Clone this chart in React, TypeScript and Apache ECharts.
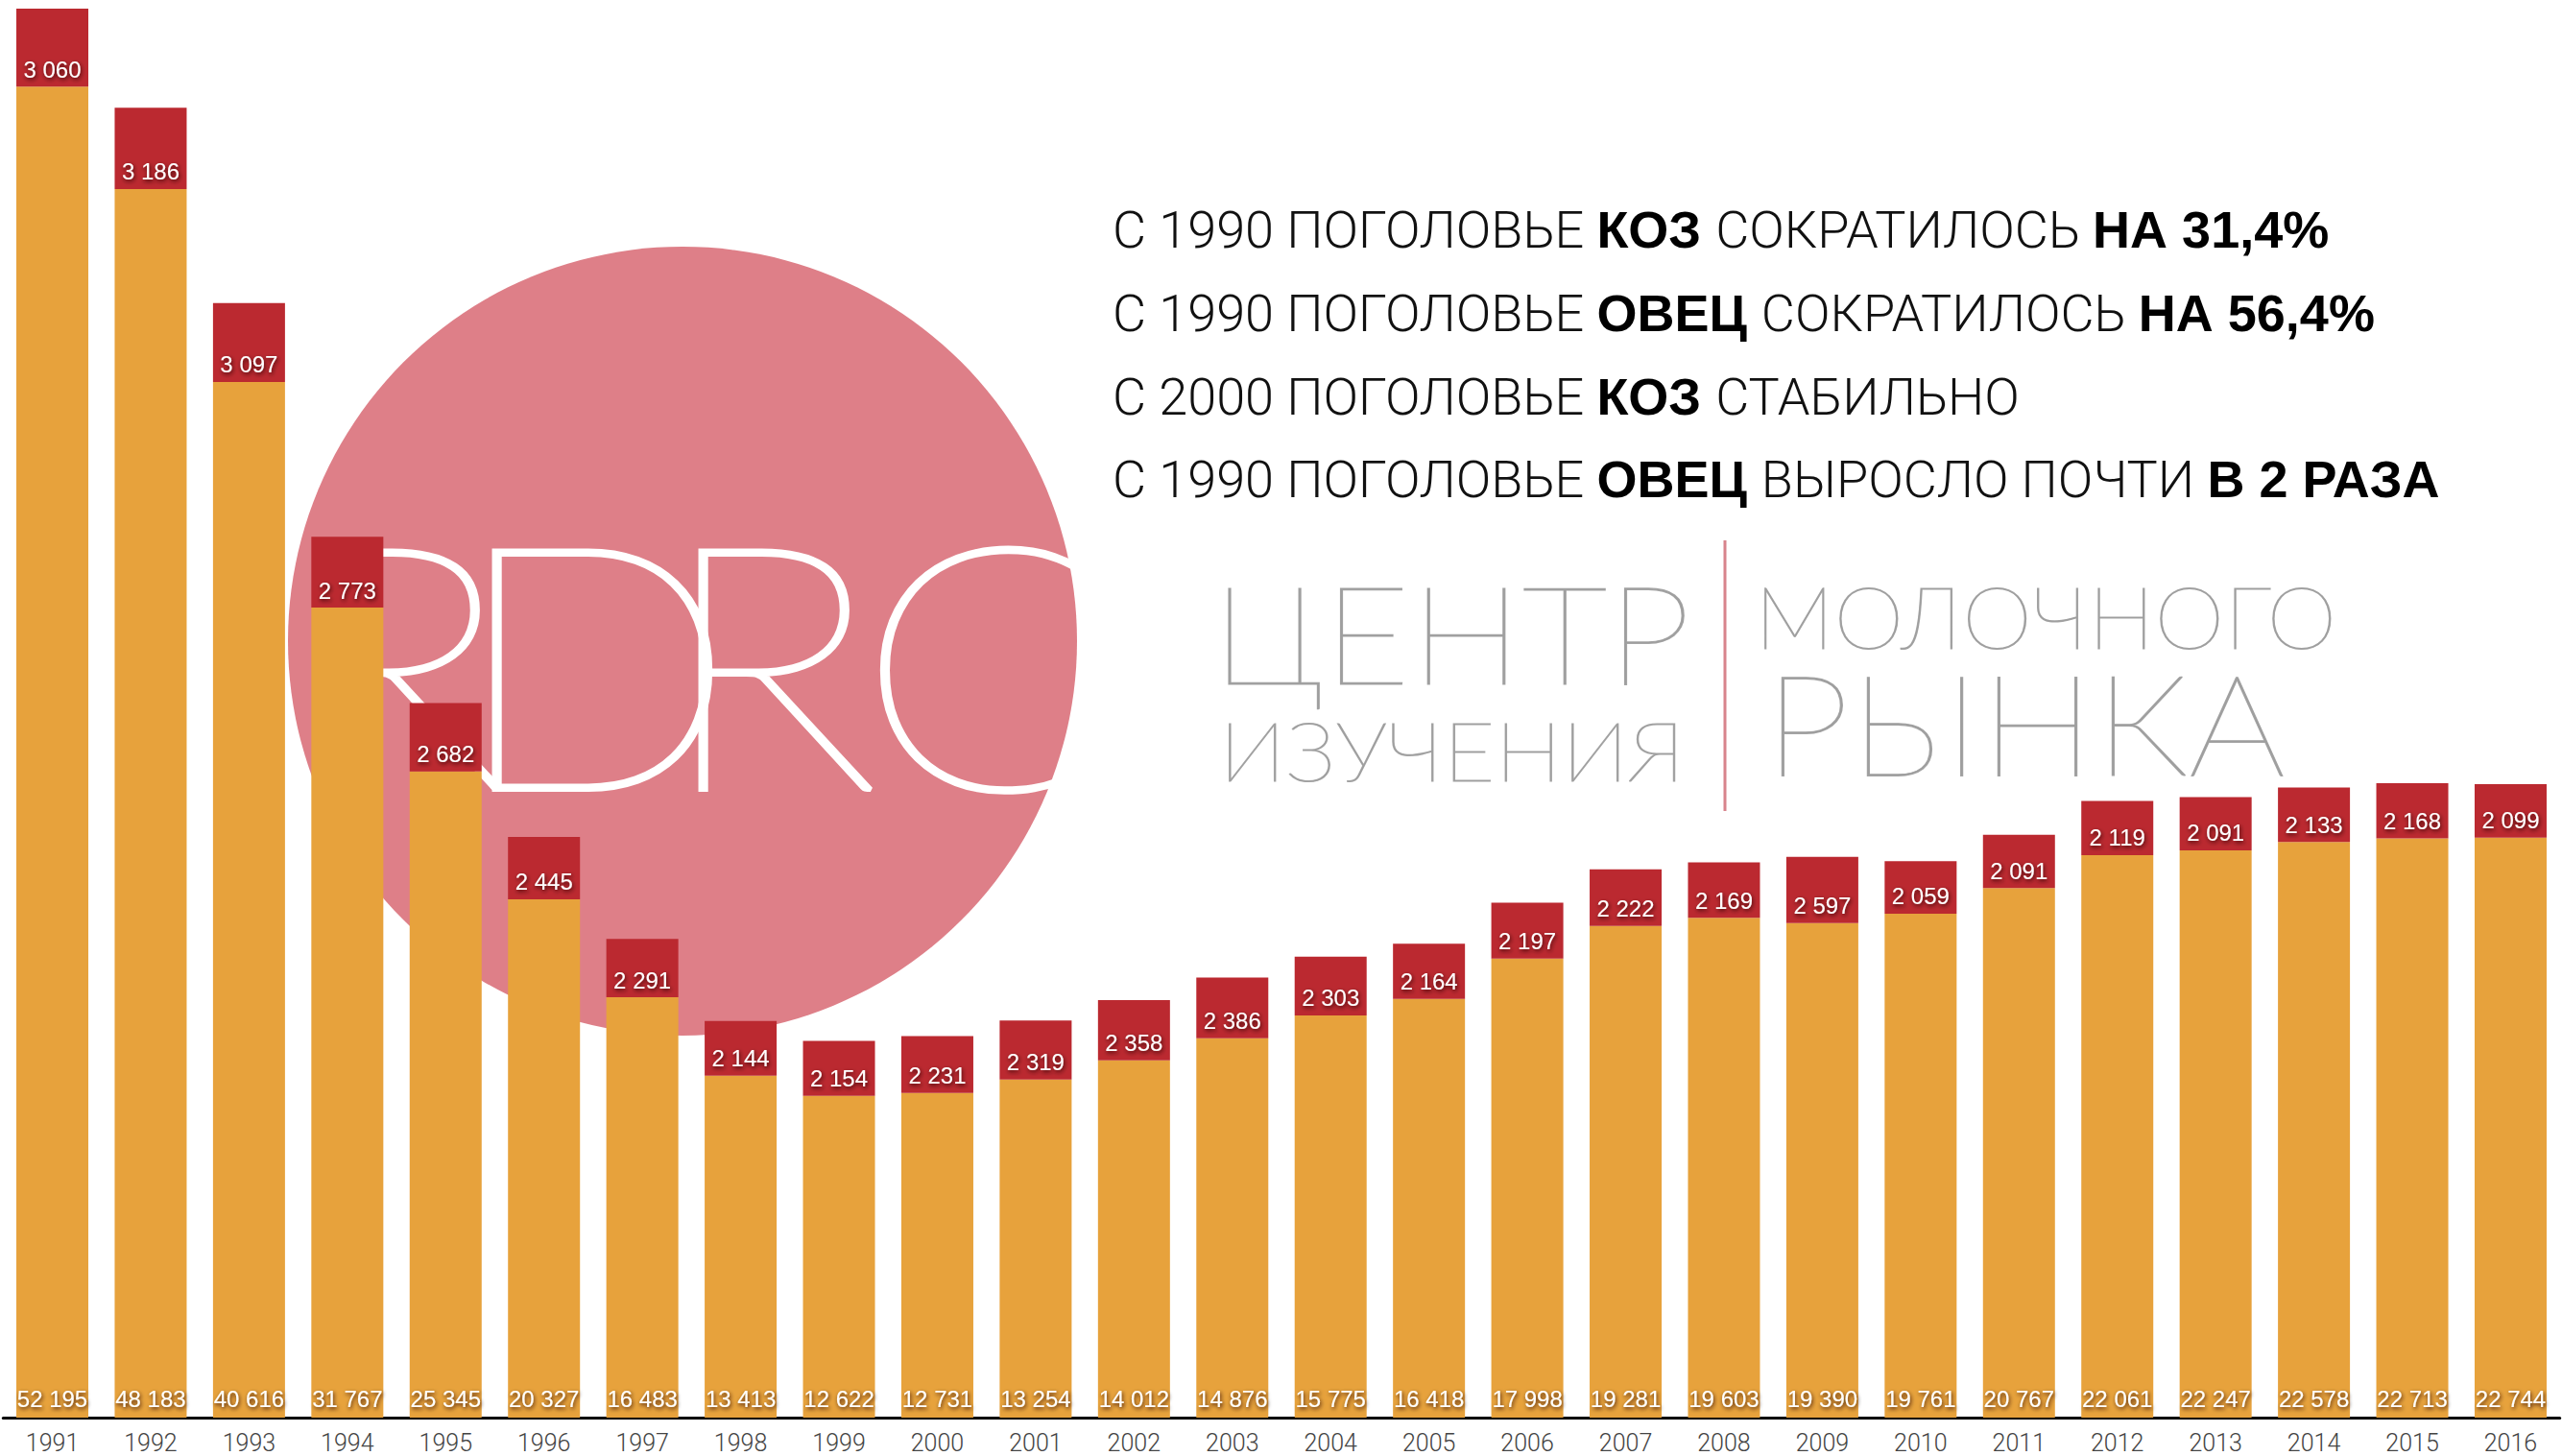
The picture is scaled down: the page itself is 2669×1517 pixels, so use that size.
import React, { useEffect, useRef } from "react";
import * as echarts from "echarts";

const years = ["1991","1992","1993","1994","1995","1996","1997","1998","1999","2000","2001","2002","2003","2004","2005","2006","2007","2008","2009","2010","2011","2012","2013","2014","2015","2016"];
const sheep = [52195,48183,40616,31767,25345,20327,16483,13413,12622,12731,13254,14012,14876,15775,16418,17998,19281,19603,19390,19761,20767,22061,22247,22578,22713,22744];
const goats = [3060,3186,3097,2773,2682,2445,2291,2144,2154,2231,2319,2358,2386,2303,2164,2197,2222,2169,2597,2059,2091,2119,2091,2133,2168,2099];

const noteLines: { t: string; b: boolean }[][] = [
  [{ t: "С 1990 ПОГОЛОВЬЕ ", b: false }, { t: "КОЗ ", b: true }, { t: "СОКРАТИЛОСЬ ", b: false }, { t: "НА 31,4%", b: true }],
  [{ t: "С 1990 ПОГОЛОВЬЕ ", b: false }, { t: "ОВЕЦ ", b: true }, { t: "СОКРАТИЛОСЬ ", b: false }, { t: "НА 56,4%", b: true }],
  [{ t: "С 2000 ПОГОЛОВЬЕ ", b: false }, { t: "КОЗ ", b: true }, { t: "СТАБИЛЬНО", b: false }],
  [{ t: "С 1990 ПОГОЛОВЬЕ ", b: false }, { t: "ОВЕЦ ", b: true }, { t: "ВЫРОСЛО ПОЧТИ ", b: false }, { t: "В 2 РАЗА", b: true }],
];

const fmt = (v: number) => String(v).replace(/\B(?=(\d{3})+(?!\d))/g, " ");

export default function App() {
  const ref = useRef<HTMLDivElement>(null);
  useEffect(() => {
    if (!ref.current) return;
    const chart = echarts.init(ref.current, undefined, { renderer: "svg" });
    const totalMax = Math.max(...sheep.map((v, i) => v + goats[i]));
    const labelBase = {
      show: true,
      position: "insideBottom" as const,
      color: "#fff",
      fontSize: 24,
      fontFamily: "Liberation Sans, Arial, sans-serif",
      formatter: (p: any) => fmt(p.value),
      textShadowColor: "rgba(40,10,0,0.85)",
      textShadowBlur: 4,
      textShadowOffsetX: 1,
      textShadowOffsetY: 2,
    };
    const noteY = [239, 326, 413, 499];
    const notes = noteLines.map((line, i) => ({
      type: "text",
      z: 10,
      x: 1159,
      y: noteY[i],
      style: {
        text: line.map((s) => `{${s.b ? "b" : "n"}|${s.t}}`).join(""),
        verticalAlign: "middle",
        align: "left",
        rich: {
          n: { fontSize: 54, fontFamily: "Roboto", fontWeight: 300, fill: "#111" },
          b: { fontSize: 54, fontFamily: "Liberation Sans", fontWeight: "bold", fill: "#000" },
        },
      },
    }));
    const logoLetter = (t: string, x: number) => ({
      type: "text",
      z: 1,
      x,
      y: 685,
      scaleX: 1.1,
      style: { text: t, fill: "#fff", stroke: "#fff", lineWidth: 5, fontSize: 355, fontFamily: "Lato", fontWeight: 100, verticalAlign: "middle", align: "left" },
    });
    const grayText = (t: string, x: number, y: number, size: number, sx: number) => ({
      type: "text",
      z: 1,
      x,
      y,
      scaleX: sx,
      style: { text: t, fill: "#9e9e9e", stroke: "#a8a8a8", lineWidth: 1.2, fontSize: size, fontFamily: "Lato", fontWeight: 100, verticalAlign: "middle", align: "left" },
    });
    chart.setOption({
      animation: false,
      backgroundColor: "#fff",
      grid: { left: 3.3, right: 2.3, top: 9, bottom: 40 },
      xAxis: {
        type: "category",
        data: years,
        axisLine: { lineStyle: { color: "#000", width: 3 } },
        axisTick: { show: false },
        axisLabel: { color: "#444", fontSize: 25, fontFamily: "Roboto", fontWeight: 300, margin: 14 },
      },
      yAxis: { type: "value", min: 0, max: totalMax, show: false, splitLine: { show: false } },
      series: [
        {
          name: "Овцы",
          type: "bar",
          stack: "total",
          data: sheep,
          barWidth: 75,
          itemStyle: { color: "#E7A23C" },
          label: { ...labelBase, distance: 8 },
          z: 3,
        },
        {
          name: "Козы",
          type: "bar",
          stack: "total",
          data: goats,
          barWidth: 75,
          itemStyle: { color: "#BB2930" },
          label: { ...labelBase, distance: 6 },
          z: 3,
        },
      ],
      graphic: {
        elements: [
          { type: "circle", z: 0, shape: { cx: 711, cy: 668, r: 411 }, style: { fill: "#DE7F88" } },
          logoLetter("R", 300),
          logoLetter("D", 470),
          logoLetter("R", 685),
          logoLetter("C", 893),
          grayText("ЦЕНТР", 1262, 658, 143, 1.09),
          grayText("ИЗУЧЕНИЯ", 1270, 781, 86, 1.08),
          grayText("МОЛОЧНОГО", 1828, 641, 90, 1.03),
          grayText("РЫНКА", 1838, 752, 146, 1.09),
          { type: "line", z: 1, shape: { x1: 1797, y1: 563, x2: 1797, y2: 845 }, style: { stroke: "#D8848C", lineWidth: 3 } },
          ...notes,
        ],
      },
    });
    return () => chart.dispose();
  }, []);
  return <div ref={ref} style={{ position: "fixed", left: 0, top: 0, width: 2669, height: 1517, background: "#fff" }} />;
}
